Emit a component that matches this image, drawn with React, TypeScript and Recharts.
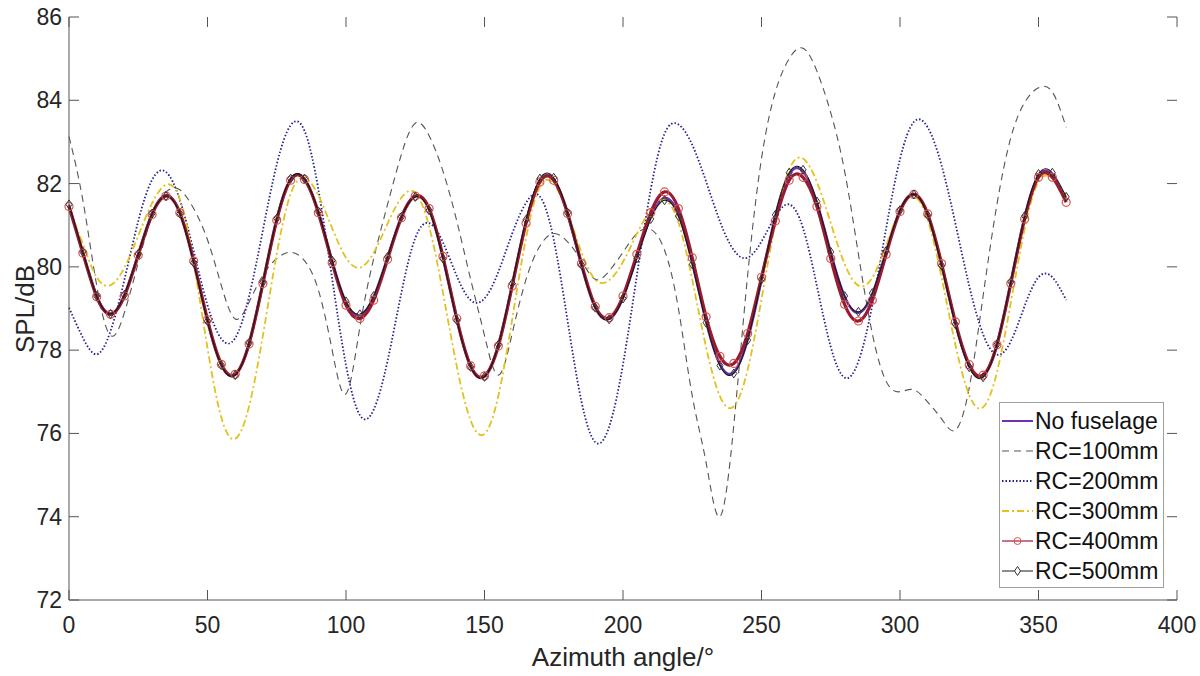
import { LineChart, Line, XAxis, YAxis, Label } from 'recharts';

// azimuth angle (deg), sampled every 5 deg
const angles = [
  0, 5, 10, 15, 20, 25, 30, 35, 40, 45, 50, 55, 60, 65, 70, 75, 80, 85, 90, 95,
  100, 105, 110, 115, 120, 125, 130, 135, 140, 145, 150, 155, 160, 165, 170, 175, 180, 185, 190, 195,
  200, 205, 210, 215, 220, 225, 230, 235, 240, 245, 250, 255, 260, 265, 270, 275, 280, 285, 290, 295,
  300, 305, 310, 315, 320, 325, 330, 335, 340, 345, 350, 355, 360,
];

// SPL (dB)
const noFuselage = [
  81.48, 80.35, 79.3, 78.88, 79.32, 80.3, 81.28, 81.72, 81.31, 80.14,
  78.72, 77.65, 77.41, 78.16, 79.61, 81.14, 82.1, 82.1, 81.32, 80.14,
  79.15, 78.84, 79.28, 80.23, 81.2, 81.7, 81.39, 80.23, 78.74, 77.61,
  77.37, 78.12, 79.56, 81.08, 82.06, 82.09, 81.27, 80.04, 79.02, 78.75,
  79.26, 80.24, 81.2, 81.65, 81.26, 80.1, 78.69, 77.66, 77.47, 78.25,
  79.69, 81.22, 82.22, 82.29, 81.54, 80.34, 79.29, 78.9, 79.35, 80.37,
  81.36, 81.75, 81.26, 80.06, 78.65, 77.62, 77.38, 78.14, 79.62, 81.19,
  82.19, 82.2, 81.62,
];
const rc100 = [
  83.13, 81.6, 79.55, 78.35, 78.9, 80.1, 81.22, 81.8, 81.85, 81.4,
  80.65, 79.55, 78.75, 79.15, 79.8, 80.2, 80.35, 80.15, 79.45, 78.0,
  76.95, 78.55, 80.2, 81.5, 82.7, 83.45, 83.15, 82.3, 81.1, 79.7,
  78.35, 77.4, 78.4, 79.7, 80.5, 80.8, 80.6, 80.15, 79.7, 79.9,
  80.35, 80.8, 80.9, 80.4, 79.0, 76.9, 75.3, 74.0, 76.2, 79.8,
  82.6, 84.2, 85.0, 85.25, 84.7, 83.7, 82.3, 80.3, 78.4, 77.25,
  77.0, 77.05, 76.75, 76.35, 76.08, 77.1, 79.3, 81.5, 83.1, 83.95,
  84.3, 84.2, 83.35,
];
const rc200 = [
  79.02, 78.3, 77.9, 78.46, 79.69, 81.1, 82.09, 82.28, 81.61, 80.38,
  79.08, 78.27, 78.29, 79.29, 80.88, 82.46, 83.4, 83.27, 81.87, 79.72,
  77.64, 76.44, 76.57, 77.74, 79.38, 80.69, 81.05, 80.59, 79.78, 79.2,
  79.24, 79.88, 80.8, 81.54, 81.69, 80.65, 78.7, 76.77, 75.79, 76.16,
  77.66, 79.79, 81.85, 83.2, 83.42, 82.93, 82.05, 81.09, 80.4, 80.22,
  80.61, 81.21, 81.5, 80.93, 79.54, 78.08, 77.34, 77.73, 79.08, 80.93,
  82.59, 83.48, 83.35, 82.44, 81.04, 79.54, 78.38, 77.89, 78.21, 79.06,
  79.75, 79.75, 79.2,
];
const rc300 = [
  81.4, 80.55, 79.75, 79.56, 79.98, 80.75, 81.53, 81.97, 81.63, 80.11,
  78.05, 76.38, 75.87, 76.65, 78.35, 80.31, 81.75, 82.14, 81.72, 80.93,
  80.22, 79.98, 80.34, 81.04, 81.66, 81.78, 80.97, 79.38, 77.61, 76.31,
  75.99, 76.9, 78.74, 80.7, 81.93, 81.99, 81.3, 80.35, 79.69, 79.68,
  80.12, 80.79, 81.37, 81.6, 81.07, 79.69, 78.07, 76.89, 76.65, 77.53,
  79.22, 81.06, 82.34, 82.6, 82.04, 81.05, 80.07, 79.55, 79.74, 80.52,
  81.35, 81.69, 81.13, 79.75, 78.13, 76.92, 76.63, 77.47, 79.14, 80.91,
  82.05, 82.12, 81.7,
];
const rc400 = [
  81.45, 80.33, 79.28, 78.86, 79.3, 80.28, 81.26, 81.7, 81.3, 80.14,
  78.73, 77.66, 77.42, 78.15, 79.6, 81.12, 82.08, 82.1, 81.3, 80.1,
  79.08, 78.76, 79.2, 80.18, 81.18, 81.7, 81.4, 80.25, 78.76, 77.62,
  77.38, 78.1, 79.54, 81.05, 82.04, 82.08, 81.28, 80.08, 79.05, 78.78,
  79.3, 80.3, 81.3, 81.8, 81.4, 80.22, 78.8, 77.85, 77.68, 78.4,
  79.75, 81.1, 82.08, 82.15, 81.45, 80.2, 79.1, 78.7, 79.2, 80.3,
  81.33, 81.74, 81.27, 80.08, 78.68, 77.65, 77.4, 78.13, 79.6, 81.15,
  82.15, 82.15, 81.55,
];
const rc500 = [
  81.5, 80.36, 79.3, 78.87, 79.33, 80.31, 81.28, 81.7, 81.28, 80.1,
  78.7, 77.64, 77.4, 78.17, 79.63, 81.16, 82.12, 82.12, 81.33, 80.15,
  79.17, 78.86, 79.3, 80.24, 81.2, 81.68, 81.36, 80.2, 78.72, 77.6,
  77.36, 78.13, 79.6, 81.13, 82.12, 82.14, 81.3, 80.05, 79.02, 78.74,
  79.24, 80.2, 81.15, 81.6, 81.22, 80.06, 78.66, 77.63, 77.44, 78.24,
  79.7, 81.25, 82.26, 82.33, 81.57, 80.36, 79.3, 78.92, 79.37, 80.38,
  81.36, 81.74, 81.24, 80.03, 78.62, 77.59, 77.35, 78.14, 79.64, 81.22,
  82.23, 82.26, 81.68,
];

const xTicks = [0, 50, 100, 150, 200, 250, 300, 350, 400];
const yTicks = [72, 74, 76, 78, 80, 82, 84, 86];

const data = angles.map((angle, i) => ({
  angle,
  noFuselage: noFuselage[i],
  rc100: rc100[i],
  rc200: rc200[i],
  rc300: rc300[i],
  rc400: rc400[i],
  rc500: rc500[i],
}));

interface SeriesConfig {
  key: string;
  label: string;
  color: string;
  width: number;
  legendWidth: number;
  dash?: string;
  marker?: 'circle' | 'diamond';
  markerColor?: string;
}

const series: SeriesConfig[] = [
  { key: 'noFuselage', label: 'No fuselage', color: '#7030b0', width: 2.6, legendWidth: 2 },
  { key: 'rc100', label: 'RC=100mm', color: '#555555', width: 1.1, legendWidth: 1, dash: '7 5' },
  { key: 'rc200', label: 'RC=200mm', color: '#22228f', width: 1.8, legendWidth: 1.8, dash: '1.5 2' },
  { key: 'rc300', label: 'RC=300mm', color: '#e2c21c', width: 1.8, legendWidth: 1.8, dash: '7 3 2 3' },
  { key: 'rc400', label: 'RC=400mm', color: '#9a1a30', width: 3.2, legendWidth: 1.2, marker: 'circle', markerColor: '#d9534f' },
  { key: 'rc500', label: 'RC=500mm', color: '#1a1a1a', width: 1.1, legendWidth: 1, marker: 'diamond', markerColor: '#333333' },
];

const W = 1200;
const H = 676;
const PLOT_LEFT = 69;
const PLOT_RIGHT = 1177;
const PLOT_TOP = 17;
const PLOT_BOTTOM = 600;
const TICK_LEN = 10;
const FONT = '"Liberation Sans", Arial, Helvetica, sans-serif';
const TEXT = '#262626';
const AXIS = '#555555';

function XTick(props: any) {
  const { x, payload } = props;
  return (
    <g>
      <line x1={x} x2={x} y1={PLOT_BOTTOM} y2={PLOT_BOTTOM - TICK_LEN} stroke={AXIS} />
      <line x1={x} x2={x} y1={PLOT_TOP} y2={PLOT_TOP + TICK_LEN} stroke={AXIS} />
      <text x={x} y={633} textAnchor="middle" fontSize={23} fontFamily={FONT} fill={TEXT}>
        {payload.value}
      </text>
    </g>
  );
}

function YTick(props: any) {
  const { y, payload } = props;
  return (
    <g>
      <line x1={PLOT_LEFT} x2={PLOT_LEFT + TICK_LEN} y1={y} y2={y} stroke={AXIS} />
      <line x1={PLOT_RIGHT} x2={PLOT_RIGHT - TICK_LEN} y1={y} y2={y} stroke={AXIS} />
      <text x={62} y={y + 8} textAnchor="end" fontSize={23} fontFamily={FONT} fill={TEXT}>
        {payload.value}
      </text>
    </g>
  );
}

function diamondPath(cx: number, cy: number) {
  return `M${cx},${cy - 4.5}L${cx + 3},${cy}L${cx},${cy + 4.5}L${cx - 3},${cy}Z`;
}

function DiamondDot(props: any) {
  const { cx, cy, index } = props;
  if (cx == null || cy == null) return <g key={`dm-${index}`} />;
  return <path key={`dm-${index}`} d={diamondPath(cx, cy)} fill="none" stroke="#333333" strokeWidth={1} />;
}

function LegendSample({ s }: { s: SeriesConfig }) {
  return (
    <svg width={34} height={30} style={{ display: 'block', flex: 'none' }}>
      <line x1={2} x2={33} y1={15} y2={15} stroke={s.color} strokeWidth={s.legendWidth} strokeDasharray={s.dash} />
      {s.marker === 'circle' && <circle cx={17.5} cy={15} r={3.5} fill="none" stroke={s.markerColor} />}
      {s.marker === 'diamond' && <path d={diamondPath(17.5, 15)} fill="#fff" stroke={s.markerColor} />}
    </svg>
  );
}

export default function App() {
  return (
    <div style={{ position: 'absolute', left: 0, top: 0, width: W, height: H, background: '#fff' }}>
      <LineChart width={W} height={H} data={data} margin={{ top: PLOT_TOP, right: W - PLOT_RIGHT, left: 0, bottom: 0 }}>
        <XAxis
          dataKey="angle"
          type="number"
          domain={[0, 400]}
          ticks={xTicks}
          interval={0}
          height={H - PLOT_BOTTOM}
          tickLine={false}
          axisLine={{ stroke: AXIS }}
          tick={<XTick />}
        >
          <Label
            content={() => (
              <text x={(PLOT_LEFT + PLOT_RIGHT) / 2} y={666} textAnchor="middle" fontSize={26} fontFamily={FONT} fill={TEXT}>
                Azimuth angle/°
              </text>
            )}
          />
        </XAxis>
        <XAxis xAxisId="top" orientation="top" dataKey="angle" type="number" domain={[0, 400]} height={0} tick={false} tickLine={false} axisLine={{ stroke: AXIS }} />
        <YAxis
          type="number"
          domain={[72, 86]}
          ticks={yTicks}
          interval={0}
          width={PLOT_LEFT}
          tickLine={false}
          axisLine={{ stroke: AXIS }}
          tick={<YTick />}
        >
          <Label
            content={() => (
              <text x={34} y={309} transform="rotate(-90 34 309)" textAnchor="middle" fontSize={26} fontFamily={FONT} fill={TEXT}>
                SPL/dB
              </text>
            )}
          />
        </YAxis>
        <YAxis yAxisId="right" orientation="right" type="number" domain={[72, 86]} width={0} tick={false} tickLine={false} axisLine={{ stroke: AXIS }} />
        {series.map(s => (
          <Line
            key={s.key}
            type="natural"
            dataKey={s.key}
            stroke={s.color}
            strokeWidth={s.width}
            strokeDasharray={s.dash}
            dot={
              s.marker === 'circle'
                ? { r: 4, stroke: s.markerColor, strokeWidth: 1.2, fill: 'none' }
                : s.marker === 'diamond'
                ? (p: any) => <DiamondDot {...p} />
                : false
            }
            activeDot={false}
            isAnimationActive={false}
          />
        ))}
      </LineChart>
      <div
        style={{
          position: 'absolute',
          left: 999,
          top: 402,
          width: 165,
          height: 186,
          boxSizing: 'border-box',
          border: '1px solid #a0a0a0',
          background: '#fff',
          paddingTop: 3,
          fontFamily: FONT,
          fontSize: 23,
          color: '#111',
        }}
      >
        {series.map(s => (
          <div key={s.key} style={{ display: 'flex', alignItems: 'center', height: 30 }}>
            <LegendSample s={s} />
            <span style={{ marginLeft: 1, whiteSpace: 'nowrap', lineHeight: '30px' }}>{s.label}</span>
          </div>
        ))}
      </div>
    </div>
  );
}
